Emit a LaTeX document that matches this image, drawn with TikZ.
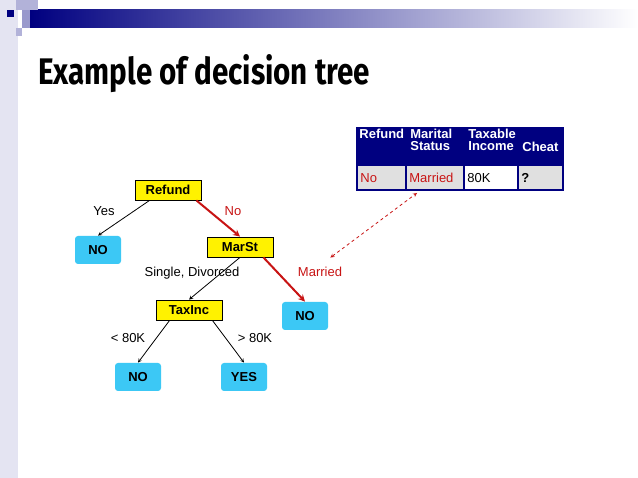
\documentclass[tikz,border=0pt]{standalone}
\usepackage{fontspec}
\setmainfont{Liberation Sans}
\newfontfamily\titlefont{Fira Sans}[FakeStretch=0.8]
\usetikzlibrary{positioning}

\definecolor{navy}{RGB}{0,0,128}
\definecolor{lav}{RGB}{228,228,242}
\definecolor{treered}{RGB}{200,20,20}
\definecolor{leafblue}{RGB}{60,200,245}

\newcommand{\txt}{\fontsize{13}{13}\selectfont}

\tikzset{
  test/.style={draw=black,fill=yellow,minimum width=66pt,minimum height=20pt,font=\bfseries\txt},
  leaf/.style={fill=leafblue,rounded corners=3pt,minimum width=46pt,minimum height=28pt,font=\bfseries\txt},
  lbl/.style={font=\txt},
  hd/.style={text=white,font=\bfseries\txt,align=left,anchor=north west,inner sep=2pt},
  cell/.style={font=\txt,anchor=west,inner sep=2pt}
}

\begin{document}
\begin{tikzpicture}[x=1pt,y=-1pt,>={stealth},line width=0.8pt]
  \useasboundingbox (0,0) rectangle (638,478);
  \fill[white] (0,0) rectangle (638,478);
  % frame of the slide
  \fill[lav] (0,0) rectangle (18,478);
  \shade[left color=navy,right color=white] (30,10) rectangle (638,28);
  \fill[navy] (7,10) rectangle (14,17);
  \fill[navy!30] (16,0) rectangle (38,10);
  \fill[navy!40] (22,10) rectangle (30,28);
  \fill[navy!30] (16,28) rectangle (22,36);
  \node[anchor=base west,inner sep=0pt,font=\titlefont\bfseries\fontsize{37}{37}\selectfont] (title) at (38,85) {Example of decision tree};

  % tree
  \node[test] (refund) at (168,190) {Refund};
  \node[leaf] (no1) at (98,250) {NO};
  \node[test] (marst) at (240,247) {MarSt};
  \node[test] (taxinc) at (189,310) {TaxInc};
  \node[leaf] (no2) at (305,316) {NO};
  \node[leaf] (no3) at (138,377) {NO};
  \node[leaf] (yes) at (244,377) {YES};

  \draw[->] (refund.south west) ++(15,0) coordinate (r1) (r1) -- (no1.north);
  \draw[->,treered,line width=2pt] (refund.south east) ++(-5,0) coordinate (r2) (r2) -- (marst.north);
  \draw[->] (marst.south) -- (taxinc.north);
  \draw[->,treered,line width=2pt] (marst.south east) ++(-10,0) coordinate (m2) (m2) -- (no2.north);
  \draw[->] (taxinc.south west) ++(14,0) coordinate (t1) (t1) -- (no3.north);
  \draw[->] (taxinc.south east) ++(-10,0) coordinate (t2) (t2) -- (yes.north);

  \node[lbl] (yeslbl) at (104,211) {Yes};
  \node[lbl,text=treered] (nolbl) at (233,211) {No};
  \node[lbl] (single) at (192,273) {Single, Divorced};
  \node[lbl,text=treered] (married) at (320,272) {Married};
  \node[lbl] (lt) at (128,338) {< 80K};
  \node[lbl] (gt) at (255,338) {> 80K};

  % test record
  \fill[navy] (357,128) rectangle (563,165);
  \fill[black!12] (357,165) rectangle (563,190);
  \fill[white] (464,165) rectangle (518,190);
  \draw[navy,line width=1.5pt] (357,128) rectangle (563,190);
  \foreach \x in {406,464,518} \draw[navy,line width=1.5pt] (\x,128) -- (\x,190);
  \draw[navy,line width=1.5pt] (357,165) -- (563,165);
  \node[hd] (h1) at (357,127) {Refund};
  \node[hd] (h2) at (408,127) {Marital\\[-1pt]Status};
  \node[hd] (h3) at (466,127) {Taxable\\[-1pt]Income};
  \node[hd,anchor=west] (h4) at (520,147) {Cheat};
  \node[cell,text=treered] (c1) at (358,178) {No};
  \node[cell,text=treered] (c2) at (407,178) {Married};
  \node[cell] (c3) at (465,178) {80K};
  \node[cell,font=\bfseries\txt] (c4) at (519,178) {?};
  \coordinate (rec) at (417,193);
  \draw[<->,treered,dashed] (no2.north east) ++(2,-44) coordinate (d1) (d1) -- (rec);
\end{tikzpicture}
\end{document}
